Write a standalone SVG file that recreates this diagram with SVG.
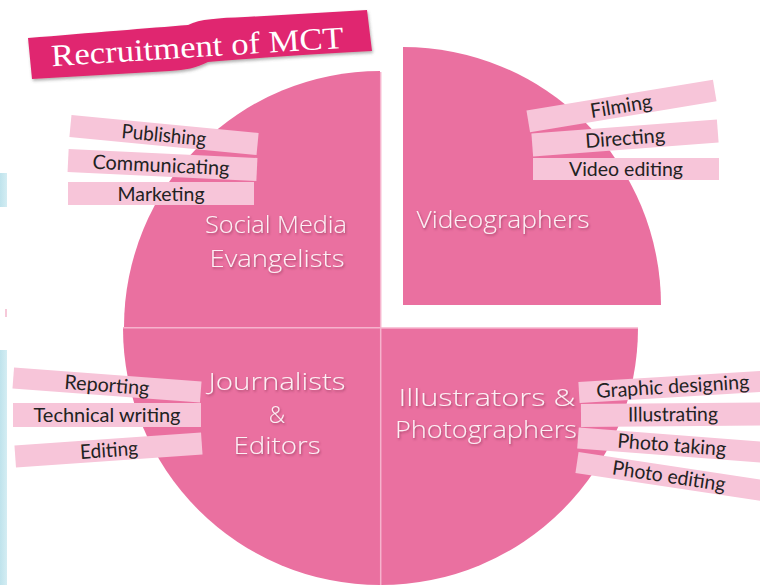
<svg xmlns="http://www.w3.org/2000/svg" width="760" height="585" viewBox="0 0 760 585">
  <defs>
    <filter id="shadow" x="-10%" y="-20%" width="120%" height="150%">
      <feDropShadow dx="1" dy="1.5" stdDeviation="0.8" flood-color="#7a2a4a" flood-opacity="0.6"/>
    </filter>
    <filter id="bshadow" x="-5%" y="-20%" width="110%" height="160%">
      <feDropShadow dx="1" dy="2" stdDeviation="1.5" flood-color="#555" flood-opacity="0.45"/>
    </filter>
    <linearGradient id="blue" x1="0" y1="0" x2="1" y2="0">
      <stop offset="0" stop-color="#bfe3ec"/>
      <stop offset="1" stop-color="#d4edf3"/>
    </linearGradient>
  </defs>
  <style>
    .pie { fill: #ea70a0; }
    .sep { stroke: #f6b3cd; stroke-width: 1.5; fill: none; }
    .bar { fill: #f7c5d9; }
    .lbl { font-family: Lato, "Open Sans", "DejaVu Sans", sans-serif; font-size: 20px; fill: #222222; text-anchor: middle; }
    .quad { font-family: "Open Sans", "DejaVu Sans", sans-serif; font-weight: 300; font-size: 23px; fill: #fdf0f5; text-anchor: middle; filter: url(#shadow); }
    .title { font-family: "Liberation Serif", "DejaVu Serif", serif; font-size: 31px; fill: #ffffff; text-anchor: middle; }
  </style>
  <rect width="760" height="585" fill="#ffffff"/>

  <!-- left edge artifacts -->
  <rect x="0" y="173" width="7" height="34" fill="url(#blue)"/>
  <rect x="0" y="350" width="7" height="235" fill="url(#blue)"/>
  <rect x="5" y="309" width="2" height="8" fill="#f6c9d9"/>

  <!-- title -->
  <g id="title">
    <path d="M28,38 C90,33 150,28 188,25 C200,19 218,18 245,17 L367,10 L372,51 C300,55 245,59 208,62 C196,68 186,70 170,71 L32,79 Z" fill="#e0286f" filter="url(#bshadow)"/>
    <text class="title" x="198" y="57" transform="rotate(-3.6 198 57)" textLength="293" lengthAdjust="spacingAndGlyphs">Recruitment of MCT</text>
  </g>

  <!-- pie quadrants -->
  <g id="quadrant-social">
    <path class="pie" d="M380,327 L124,327 A256,256 0 0 1 380,71 Z"/>
    <text class="quad" x="276" y="233" textLength="142" lengthAdjust="spacingAndGlyphs">Social Media</text>
    <text class="quad" x="277" y="267" textLength="135" lengthAdjust="spacingAndGlyphs">Evangelists</text>
  </g>
  <g id="quadrant-video">
    <path class="pie" d="M403,305 L403,47 A258,258 0 0 1 661,305 Z"/>
    <text class="quad" x="503" y="228" textLength="173" lengthAdjust="spacingAndGlyphs">Videographers</text>
  </g>
  <g id="quadrant-journalists">
    <path class="pie" d="M380,328 L380,585 A257,257 0 0 1 123,328 Z"/>
    <text class="quad" x="277" y="390" textLength="137" lengthAdjust="spacingAndGlyphs">Journalists</text>
    <text class="quad" x="277" y="423">&amp;</text>
    <text class="quad" x="277" y="454" textLength="87" lengthAdjust="spacingAndGlyphs">Editors</text>
  </g>
  <g id="quadrant-illustrators">
    <path class="pie" d="M381,328 L638,328 A257,257 0 0 1 381,585 Z"/>
    <text class="quad" x="487" y="406" textLength="177" lengthAdjust="spacingAndGlyphs">Illustrators &amp;</text>
    <text class="quad" x="486" y="438" textLength="182" lengthAdjust="spacingAndGlyphs">Photographers</text>
  </g>

  <g id="connectors">
    <line class="sep" x1="123" y1="327.8" x2="380" y2="327.8"/>
    <line class="sep" x1="380.7" y1="72" x2="380.7" y2="585"/>
    <line class="sep" x1="381" y1="328" x2="638" y2="328"/>
  </g>

  <!-- social media skills -->
  <g id="skill-publishing" transform="translate(164 135) rotate(5.5)">
    <rect class="bar" x="-94" y="-11" width="188" height="22"/>
    <text class="lbl" x="0" y="7" textLength="85" lengthAdjust="spacingAndGlyphs">Publishing</text>
  </g>
  <g id="skill-communicating" transform="translate(162 165) rotate(2.7)">
    <rect class="bar" x="-94" y="-11.5" width="189" height="23"/>
    <text class="lbl" x="-1" y="7" textLength="137" lengthAdjust="spacingAndGlyphs">Communicating</text>
  </g>
  <g id="skill-marketing" transform="translate(161 193.5)">
    <rect class="bar" x="-93" y="-11.5" width="186" height="23"/>
    <text class="lbl" x="0" y="7" textLength="87" lengthAdjust="spacingAndGlyphs">Marketing</text>
  </g>

  <!-- videographer skills -->
  <g id="skill-filming" transform="translate(621 106) rotate(-9.4)">
    <rect class="bar" x="-94" y="-11" width="189" height="22"/>
    <text class="lbl" x="0" y="7" textLength="62" lengthAdjust="spacingAndGlyphs">Filming</text>
  </g>
  <g id="skill-directing" transform="translate(625 138) rotate(-4.3)">
    <rect class="bar" x="-93" y="-11.5" width="186" height="23"/>
    <text class="lbl" x="0" y="7" textLength="80" lengthAdjust="spacingAndGlyphs">Directing</text>
  </g>
  <g id="skill-video-editing" transform="translate(626 169)">
    <rect class="bar" x="-93" y="-11" width="186" height="22"/>
    <text class="lbl" x="0" y="7" textLength="114" lengthAdjust="spacingAndGlyphs">Video editing</text>
  </g>

  <!-- journalist skills -->
  <g id="skill-reporting" transform="translate(107 385) rotate(4.3)">
    <rect class="bar" x="-94" y="-10.5" width="188" height="21"/>
    <text class="lbl" x="0" y="7" textLength="85" lengthAdjust="spacingAndGlyphs">Reporting</text>
  </g>
  <g id="skill-technical-writing" transform="translate(107 415)">
    <rect class="bar" x="-94" y="-12" width="188" height="24"/>
    <text class="lbl" x="0" y="7" textLength="147" lengthAdjust="spacingAndGlyphs">Technical writing</text>
  </g>
  <g id="skill-editing" transform="translate(108 450) rotate(-4)">
    <rect class="bar" x="-93" y="-11" width="187" height="22"/>
    <text class="lbl" x="1" y="7" textLength="58" lengthAdjust="spacingAndGlyphs">Editing</text>
  </g>

  <!-- illustrator skills -->
  <g id="skill-graphic-designing" transform="translate(579 392.5) rotate(-3.5)">
    <rect class="bar" x="0" y="-10.5" width="200" height="21"/>
    <text class="lbl" x="94" y="6.5" textLength="153" lengthAdjust="spacingAndGlyphs">Graphic designing</text>
  </g>
  <g id="skill-illustrating" transform="translate(581 415.5) rotate(-0.5)">
    <rect class="bar" x="0" y="-11.5" width="200" height="23"/>
    <text class="lbl" x="92" y="6.5" textLength="90" lengthAdjust="spacingAndGlyphs">Illustrating</text>
  </g>
  <g id="skill-photo-taking" transform="translate(578 438) rotate(4.4)">
    <rect class="bar" x="0" y="-10.5" width="200" height="21"/>
    <text class="lbl" x="94" y="6.5" textLength="109" lengthAdjust="spacingAndGlyphs">Photo taking</text>
  </g>
  <g id="skill-photo-editing" transform="translate(577 462.5) rotate(8.6)">
    <rect class="bar" x="0" y="-10.5" width="200" height="21"/>
    <text class="lbl" x="93" y="6.5" textLength="114" lengthAdjust="spacingAndGlyphs">Photo editing</text>
  </g>
</svg>
